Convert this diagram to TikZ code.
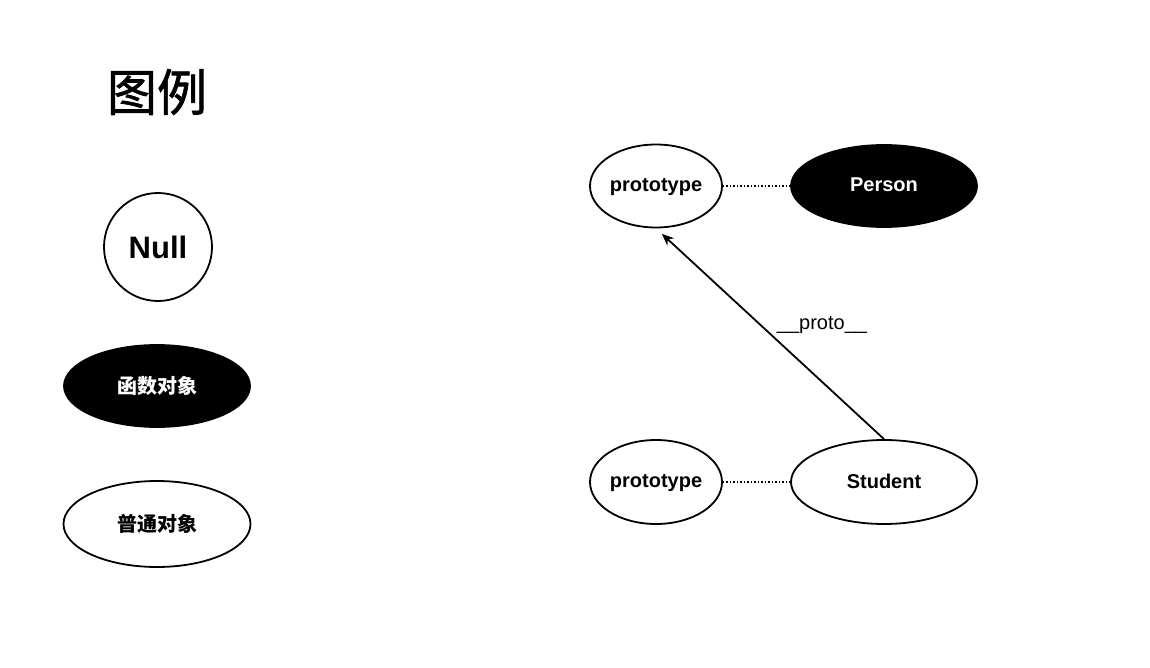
\documentclass[tikz,border=0pt]{standalone}
\usepackage{fontspec}
\setmainfont{Liberation Sans}
\newfontfamily\cjk[FakeBold=1.3]{Noto Sans CJK SC}
\newfontfamily\cjkbold{Noto Sans CJK SC Bold}
\usetikzlibrary{arrows.meta,positioning,shapes.geometric}
\tikzset{
  plainobj/.style={ellipse, draw, line width=1.8pt, fill=white, inner sep=0pt,
    text depth=0.2em, font=\bfseries\fontsize{20}{24}\selectfont},
  funcobj/.style={ellipse, draw, line width=1.8pt, fill=black, text=white, inner sep=0pt,
    text depth=0.2em, font=\bfseries\fontsize{20}{24}\selectfont},
  link/.style={dotted, line width=1.5pt},
}

\begin{document}
\begin{tikzpicture}[x=1pt, y=-1pt]
    \useasboundingbox (0,0) rectangle (1150,668);
    % legend
    \node (title) at (157,92) {\cjk\fontsize{50}{56}\selectfont 图例};
    \node[circle, draw, line width=1.8pt, minimum size=108pt, inner sep=0pt,
      font=\bfseries\fontsize{31}{36}\selectfont] (null) at (158,247) {Null};
    \node[funcobj, minimum width=186pt, minimum height=82pt] (func) at (157,386)
      {\cjkbold 函数对象};
    \node[plainobj, minimum width=187pt, minimum height=86pt] (plain) at (157,524)
      {\cjkbold 普通对象};
    % Person and its prototype
    \node[plainobj, minimum width=132pt, minimum height=83pt] (personproto) at (656,186) {prototype};
    \node[funcobj, minimum width=186pt, minimum height=82pt] (person) at (884,186) {Person};
    \draw[link] (personproto) -- (person);
    % Student and its prototype
    \node[plainobj, minimum width=132pt, minimum height=84pt] (studentproto) at (656,482) {prototype};
    \node[plainobj, minimum width=186pt, minimum height=84pt] (student) at (884,482) {Student};
    \draw[link] (studentproto) -- (student);
    % __proto__ chain
    \draw[-{Stealth[length=12pt, width=10pt]}, line width=1.8pt, shorten >=8pt]
      (student.north) -- (personproto.south);
    \node[font=\fontsize{20}{24}\selectfont] (protolabel) at (822,325) {\_\_proto\_\_};
\end{tikzpicture}
\end{document}
